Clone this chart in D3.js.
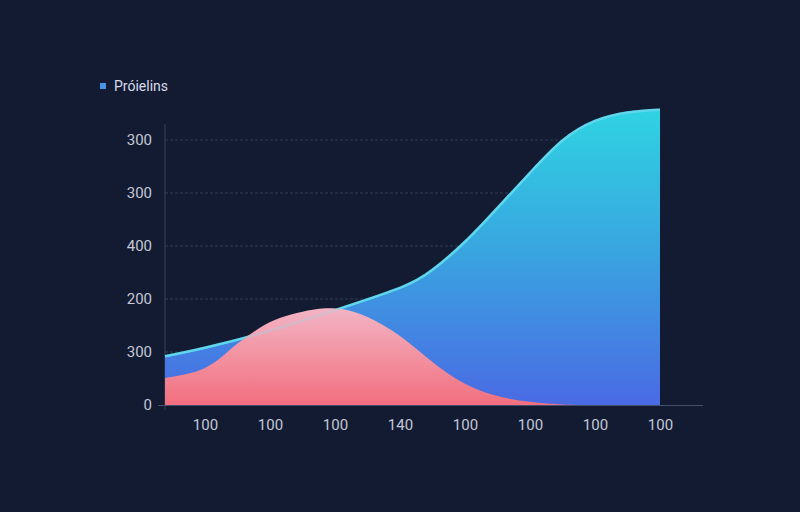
<!DOCTYPE html>
<html>
<head>
<meta charset="utf-8">
<script src="https://cdn.jsdelivr.net/npm/d3@7"></script>
<style>
  html, body { margin: 0; padding: 0; background: #131b33; }
  svg { display: block; }
</style>
</head>
<body>
<svg id="chart" width="800" height="512"></svg>
<script>
// ---- data ----
const xTickLabels = ["100", "100", "100", "140", "100", "100", "100", "100"];
const yTickLabels = ["0", "300", "200", "400", "300", "300"];
const legendLabel = "Próielins";

const blueX = [-0.615, 0, 1, 2, 3, 3.5, 4, 4.5, 5, 5.5, 6, 6.5, 7];
const blueY = [0.92, 1.08, 1.40, 1.79, 2.21, 2.55, 3.08, 3.72, 4.38, 4.99, 5.36, 5.52, 5.57];

const pinkX = [-0.615, -0.3, 0, 0.25, 0.5, 0.85, 1.15, 1.5, 1.8, 2.1, 2.5, 3, 3.5, 4, 4.5, 5, 5.5, 6, 7];
const pinkY = [0.51, 0.58, 0.70, 0.90, 1.16, 1.46, 1.64, 1.76, 1.82, 1.81, 1.66, 1.30, 0.81, 0.40, 0.17, 0.06, 0.01, 0, 0];

// ---- layout ----
const svg = d3.select("#chart");
const x = d3.scaleLinear().domain([0, 7]).range([205, 660]);
const y = d3.scaleLinear().domain([0, 5]).range([405, 140]);

const defs = svg.append("defs");
const gBlue = defs.append("linearGradient").attr("id", "gBlue")
  .attr("gradientUnits", "userSpaceOnUse").attr("x1", 0).attr("x2", 0).attr("y1", 110).attr("y2", 405);
gBlue.append("stop").attr("offset", "0%").attr("stop-color", "#2fd3e2");
gBlue.append("stop").attr("offset", "45%").attr("stop-color", "#38a8e0");
gBlue.append("stop").attr("offset", "100%").attr("stop-color", "#4a6ae4");

const gPink = defs.append("linearGradient").attr("id", "gPink")
  .attr("gradientUnits", "userSpaceOnUse").attr("x1", 0).attr("x2", 0).attr("y1", 308).attr("y2", 405);
gPink.append("stop").attr("offset", "0%").attr("stop-color", "#f2b4c4");
gPink.append("stop").attr("offset", "100%").attr("stop-color", "#f26f7e");

const FONT = "Roboto, 'Liberation Sans', sans-serif";

// gridlines
svg.append("g").selectAll("line")
  .data(d3.range(1, 6))
  .join("line")
  .attr("x1", 165).attr("x2", 660)
  .attr("y1", d => y(d)).attr("y2", d => y(d))
  .attr("stroke", "#3a4663").attr("stroke-width", 1)
  .attr("stroke-dasharray", "3,2").attr("opacity", 0.8);

// y-axis
const yAxis = d3.axisLeft(y).tickValues(d3.range(0, 6))
  .tickFormat((d, i) => yTickLabels[i]).tickSize(0).tickPadding(12);
const yg = svg.append("g").attr("transform", "translate(165,0)").call(yAxis);
yg.select(".domain").remove();
yg.selectAll("text").attr("fill", "#c3c8d6").attr("font-size", 15)
  .attr("font-family", FONT).attr("dx", -1);
svg.append("line").attr("x1", 165).attr("x2", 165).attr("y1", 124).attr("y2", 410)
  .attr("stroke", "#38435e").attr("stroke-width", 1);

// areas
const blueData = blueX.map((v, i) => [v, blueY[i]]);
const pinkData = pinkX.map((v, i) => [v, pinkY[i]]);

const curve = d3.curveNatural;
const area = d3.area().x(d => x(d[0])).y0(y(0)).y1(d => Math.min(y(0), y(d[1]))).curve(curve);
const line = d3.line().x(d => x(d[0])).y(d => y(d[1])).curve(curve);

svg.append("path").datum(blueData).attr("d", area).attr("fill", "url(#gBlue)");
svg.append("path").datum(blueData).attr("d", line).attr("fill", "none")
  .attr("stroke", "#40d6ee").attr("stroke-width", 2.5);
svg.append("path").datum(pinkData).attr("d", area).attr("fill", "url(#gPink)");
// faint blue line showing through the pink area
svg.append("path").datum(blueData).attr("d", line).attr("fill", "none")
  .attr("stroke", "#9fd8ea").attr("stroke-width", 2.5).attr("opacity", 0.35);

// x-axis
const xAxis = d3.axisBottom(x).tickValues(d3.range(0, 8))
  .tickFormat((d, i) => xTickLabels[i]).tickSize(0).tickPadding(14);
const xg = svg.append("g").attr("transform", "translate(0,405)").call(xAxis);
xg.select(".domain").remove();
xg.selectAll("text").attr("fill", "#c3c8d6").attr("font-size", 15)
  .attr("font-family", FONT);
svg.append("line").attr("x1", 158).attr("x2", 703).attr("y1", 405.5).attr("y2", 405.5)
  .attr("stroke", "#46506a").attr("stroke-width", 1);

// legend
svg.append("rect").attr("x", 100).attr("y", 83).attr("width", 6).attr("height", 6)
  .attr("fill", "#4a92e6");
svg.append("text").attr("x", 114).attr("y", 91).text(legendLabel)
  .attr("fill", "#d8dcea").attr("font-size", 14)
  .attr("font-family", FONT);
</script>
</body>
</html>
